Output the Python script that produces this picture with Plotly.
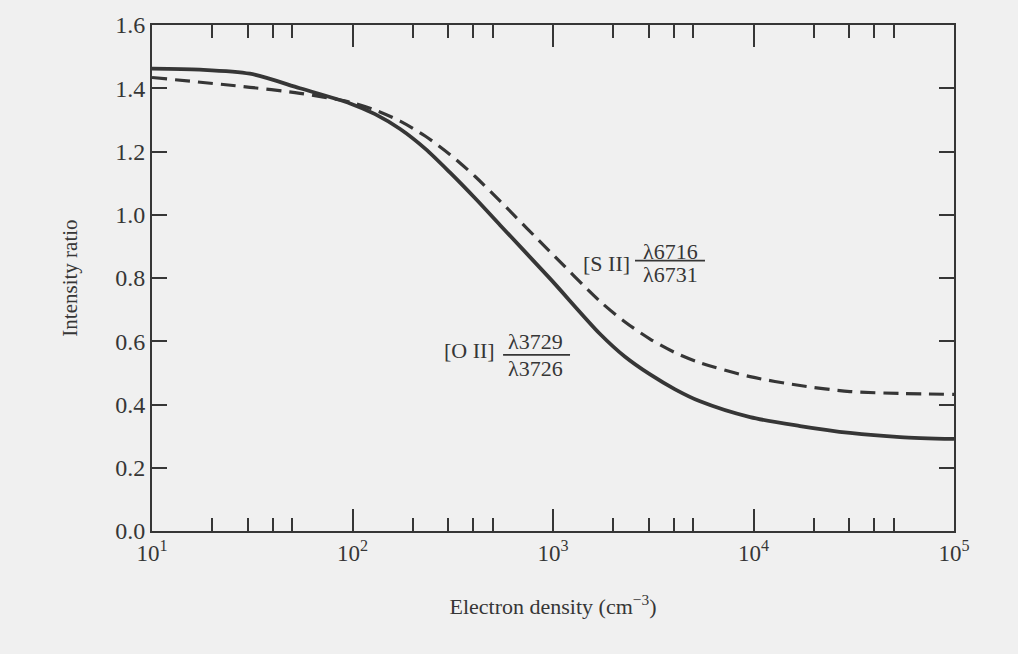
import plotly.graph_objects as go

# Electron density (cm^-3) and intensity ratios
oii_density = [10, 17.3, 30.8, 54.7, 97.3, 129.6, 172.8, 230.3, 306.9, 409, 545, 967, 1717, 2287, 3049,
               4063, 5413, 9613, 17070, 30310, 53830, 100000]
oii_ratio = [1.462, 1.459, 1.446, 1.400, 1.352, 1.318, 1.271, 1.209, 1.133, 1.052, 0.967, 0.798, 0.623, 0.551,
             0.495, 0.448, 0.410, 0.360, 0.332, 0.310, 0.297, 0.291]

sii_density = [10, 30.8, 54.7, 97.3, 129.6, 172.8, 230.3, 306.9, 409, 545, 967, 1717, 2287, 3049, 4063, 5413,
               9613, 17070, 30310, 53830, 100000]
sii_ratio = [1.434, 1.403, 1.384, 1.356, 1.331, 1.296, 1.249, 1.190, 1.121, 1.043, 0.883, 0.726, 0.661, 0.607,
             0.564, 0.532, 0.488, 0.460, 0.441, 0.435, 0.432]

x_tickvals = [10, 100, 1000, 10000, 100000]
x_ticktext = ["10<sup>1</sup>", "10<sup>2</sup>", "10<sup>3</sup>", "10<sup>4</sup>", "10<sup>5</sup>"]
x_minor = [m * 10 ** k for k in range(1, 5) for m in (2, 3, 4, 5)]
y_tickvals = [0.0, 0.2, 0.4, 0.6, 0.8, 1.0, 1.2, 1.4, 1.6]

INK = "#363636"
BG = "#f0f0f0"
FONT = "Liberation Serif"
LOGMIN, LOGMAX = 1, 5


def px_x(logx):
    return (logx - LOGMIN) / (LOGMAX - LOGMIN)


fig = go.Figure()
fig.add_trace(go.Scatter(x=oii_density, y=oii_ratio, mode="lines",
                         line=dict(color=INK, width=3.8, shape="spline", smoothing=0.8),
                         name="[O II]", showlegend=False))
fig.add_trace(go.Scatter(x=sii_density, y=sii_ratio, mode="lines",
                         line=dict(color=INK, width=3.2, dash="15px,8px", shape="spline", smoothing=0.8),
                         name="[S II]", showlegend=False))

LABEL_FONT = dict(family=FONT, size=22, color=INK)


def frac_label(prefix, num, den, x_prefix_right, y_mid, x_frac_c, y_num, y_line, y_den, x0, x1):
    fig.add_annotation(x=x_prefix_right, y=y_mid, text=prefix, showarrow=False,
                       xanchor="right", yanchor="middle", font=LABEL_FONT)
    fig.add_annotation(x=x_frac_c, y=y_num, text=num, showarrow=False,
                       xanchor="center", yanchor="middle", font=LABEL_FONT)
    fig.add_annotation(x=x_frac_c, y=y_den, text=den, showarrow=False,
                       xanchor="center", yanchor="middle", font=LABEL_FONT)
    fig.add_shape(type="line", xref="paper", yref="y", x0=px_x(x0), x1=px_x(x1), y0=y_line, y1=y_line,
                  line=dict(color=INK, width=1.6))


frac_label("[S II]", "λ6716", "λ6731", 3.394, 0.845, 3.584, 0.884, 0.855, 0.810, 3.409, 3.758)
frac_label("[O II]", "λ3729", "λ3726", 2.721, 0.570, 2.915, 0.600, 0.557, 0.515, 2.751, 3.085)

fig.update_xaxes(type="log", range=[LOGMIN, LOGMAX], tickmode="array", tickvals=x_tickvals, ticktext=x_ticktext,
                 ticks="inside", ticklen=22, tickwidth=2, tickcolor=INK,
                 minor=dict(tickmode="array", tickvals=x_minor, ticks="inside", ticklen=13, tickwidth=2,
                            tickcolor=INK, showgrid=False),
                 showline=True, linewidth=2, linecolor=INK, mirror="ticks", showgrid=False, zeroline=False,
                 tickfont=dict(family=FONT, size=23, color=INK),
                 title=dict(text="Electron density (cm<sup>−3</sup>)", font=dict(family=FONT, size=22, color=INK),
                            standoff=34))
fig.update_yaxes(range=[0, 1.6], tickmode="array", tickvals=y_tickvals, tickformat=".1f",
                 ticks="inside", ticklen=15, tickwidth=2, tickcolor=INK,
                 showline=True, linewidth=2, linecolor=INK, mirror="ticks", showgrid=False, zeroline=False,
                 tickfont=dict(family=FONT, size=24, color=INK),
                 title=dict(text="Intensity ratio", font=dict(family=FONT, size=21, color=INK), standoff=32))

fig.update_layout(width=1018, height=654, margin=dict(l=152, r=64, t=20, b=123),
                  paper_bgcolor=BG, plot_bgcolor=BG, showlegend=False)

fig.write_html("out.html")
